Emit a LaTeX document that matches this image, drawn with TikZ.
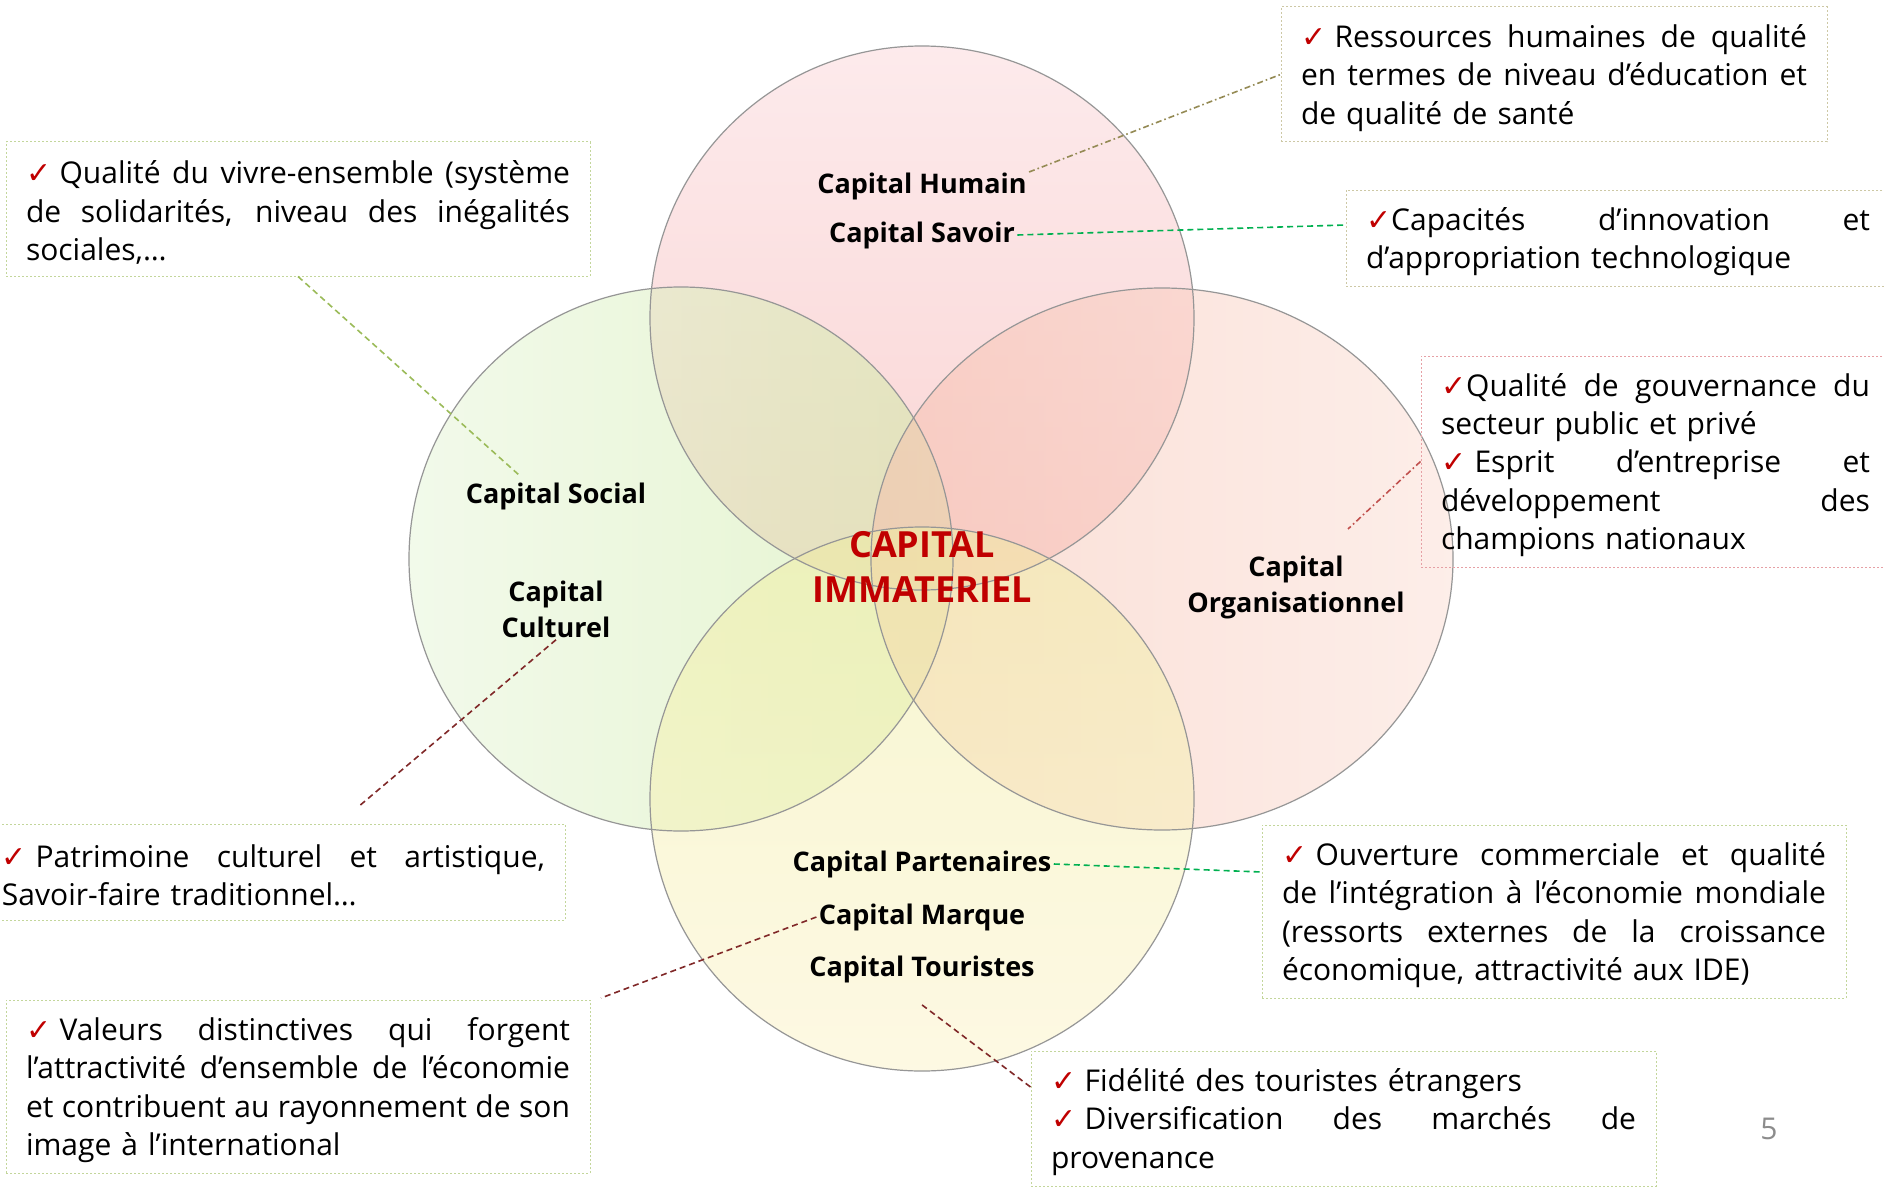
\documentclass[tikz,border=0pt]{standalone}
\usepackage{fontspec}
\setmainfont{Open Sans}
\newfontfamily\symfont{DejaVu Sans}

\definecolor{chkred}{RGB}{192,0,0}
\definecolor{titlered}{RGB}{192,0,0}
\definecolor{rimgray}{RGB}{150,150,150}
\definecolor{boxgreen}{RGB}{195,214,155}
\definecolor{boxbeige}{RGB}{205,200,165}
\definecolor{boxpink}{RGB}{230,160,165}
\definecolor{lnolive}{RGB}{148,138,84}
\definecolor{lngreen}{RGB}{0,176,80}
\definecolor{lnlime}{RGB}{155,187,89}
\definecolor{lnred}{RGB}{192,80,77}
\definecolor{lnbrown}{RGB}{128,40,40}
\definecolor{pagegray}{RGB}{140,140,140}

\newcommand{\ck}{\textcolor{chkred}{\symfont\char"2713}}
\newcommand{\cksp}{\ck\hspace{0.28em}}
\newcommand{\jl}[1]{{\spaceskip=0pt\xspaceskip=0pt\makebox[\linewidth][s]{#1}}}

\begin{document}
\begin{tikzpicture}[x=0.5pt, y=-0.5pt,
  venn/.style={fill opacity=0.5},
  rim/.style={draw=rimgray, line width=0.6pt},
  lbl/.style={font=\fontsize{13.5}{18}\selectfont\bfseries, align=center, inner sep=1pt},
  note/.style={draw=boxgreen, dash pattern=on 1pt off 1pt, line width=0.5pt,
    align=left, inner xsep=10pt, inner ysep=0pt, font=\fontsize{15}{19.2}\selectfont,
    execute at begin node={\rule{0pt}{15pt}}},
  link/.style={line width=0.8pt},
  dashlink/.style={link, dash pattern=on 3pt off 2pt},
  dotlink/.style={link, dash pattern=on 3pt off 1.5pt on 0.8pt off 1.5pt}]
  \useasboundingbox (0,0) rectangle (1884,1188);
  \fill[white] (0,0) rectangle (1884,1188);

  % Circles
  \shade[venn, top color={rgb,255:red,252;green,215;blue,218}, bottom color={rgb,255:red,245;green,170;blue,168}] (922,318) circle[radius=272];
  \shade[venn, left color={rgb,255:red,230;green,246;blue,215}, right color={rgb,255:red,205;green,235;blue,160}] (681,559) circle[radius=272];
  \shade[venn, right color={rgb,255:red,252;green,222;blue,212}, left color={rgb,255:red,247;green,190;blue,172}] (1162,559) ellipse[x radius=291, y radius=271];
  \shade[venn, bottom color={rgb,255:red,253;green,244;blue,200}, top color={rgb,255:red,240;green,238;blue,160}] (922,799) circle[radius=272];
  \draw[rim] (922,318) circle[radius=272];
  \draw[rim] (681,559) circle[radius=272];
  \draw[rim] (1162,559) ellipse[x radius=291, y radius=271];
  \draw[rim] (922,799) circle[radius=272];

  % Labels
  \node[lbl] (humain) at (922,186) {Capital Humain};
  \node[lbl] (savoir) at (922,235) {Capital Savoir};
  \node[lbl] (social) at (556,496) {Capital Social};
  \node[lbl] (culturel) at (556,609) {Capital\\Culturel};
  \node[lbl] (orga) at (1296,587) {Capital\\Organisationnel};
  \node[lbl] (partenaires) at (922,864) {Capital Partenaires};
  \node[lbl] (marque) at (922,917) {Capital Marque};
  \node[lbl] (touristes) at (922,969) {Capital Touristes};
  \node[align=center, text=titlered, font=\fontsize{18}{22.2}\selectfont\bfseries] (immat) at (922,567) {CAPITAL\\IMMATERIEL};

  % Boxes
  \node[note, draw=boxbeige, text width=253pt, minimum height=67.5pt] (rh) at (1554,74.5)
    {\jl{\cksp Ressources humaines de qualité}\\\jl{en termes de niveau d’éducation et}\\de qualité de santé};
  \node[note, draw=boxbeige, text width=252pt, minimum height=48pt] (capa) at (1618,238)
    {\jl{\ck Capacités d’innovation et}\\d’appropriation technologique};
  \node[note, draw=boxpink, text width=214.5pt, minimum height=105.5pt] (gouv) at (1655.5,461.5)
    {\jl{\ck Qualité de gouvernance du}\\secteur public et privé\\\jl{\cksp Esprit d’entreprise et}\\\jl{développement des}\\champions nationaux};
  \node[note, text width=272pt, minimum height=67pt] (vivre) at (298,209)
    {\jl{\cksp Qualité du vivre-ensemble (système}\\\jl{de solidarités, niveau des inégalités}\\sociales,…};
  \node[note, text width=271.5pt, minimum height=48pt] (patri) at (273.5,872)
    {\jl{\cksp Patrimoine culturel et artistique,}\\Savoir-faire traditionnel…};
  \node[note, text width=272pt, minimum height=86.5pt] (ouv) at (1554,911.5)
    {\jl{\cksp Ouverture commerciale et qualité}\\\jl{de l’intégration à l’économie mondiale}\\\jl{(ressorts externes de la croissance}\\économique, attractivité aux IDE)};
  \node[note, text width=272pt, minimum height=86.5pt] (valeurs) at (298,1086.5)
    {\jl{\cksp Valeurs distinctives qui forgent}\\\jl{l’attractivité d’ensemble de l’économie}\\\jl{et contribuent au rayonnement de son}\\image à l’international};
  \node[note, text width=292.5pt, minimum height=67.5pt] (fid) at (1343.5,1118.5)
    {\cksp Fidélité des touristes étrangers\\\jl{\cksp Diversification des marchés de}\\provenance};
  \node[text=pagegray, font=\fontsize{15}{18}\selectfont] (pg) at (1769,1129) {5};

  % Free ends
  \coordinate (socpt) at (519,475);
  \coordinate (orgpt) at (1348,529);
  \coordinate (patpt) at (358,807);
  \coordinate (marqpt) at (601,998);

  % Links
  \draw[dotlink, lnolive] ([yshift=7pt]humain.east) -- (rh.west);
  \draw[dashlink, lngreen] (savoir.east) -- ([yshift=6.5pt]capa.west);
  \draw[dashlink, lnlime] (vivre.south) -- (socpt);
  \draw[dotlink, lnred] (gouv.west) -- (orgpt);
  \draw[dashlink, lnbrown] (culturel.south) -- (patpt);
  \draw[dashlink, lngreen] (partenaires.east) -- ([yshift=19.75pt]ouv.west);
  \draw[dashlink, lnbrown] (marque.west) -- (marqpt);
  \draw[dashlink, lnbrown] ([yshift=-10pt]touristes.south) -- ([yshift=15.75pt]fid.west);
\end{tikzpicture}
\end{document}
